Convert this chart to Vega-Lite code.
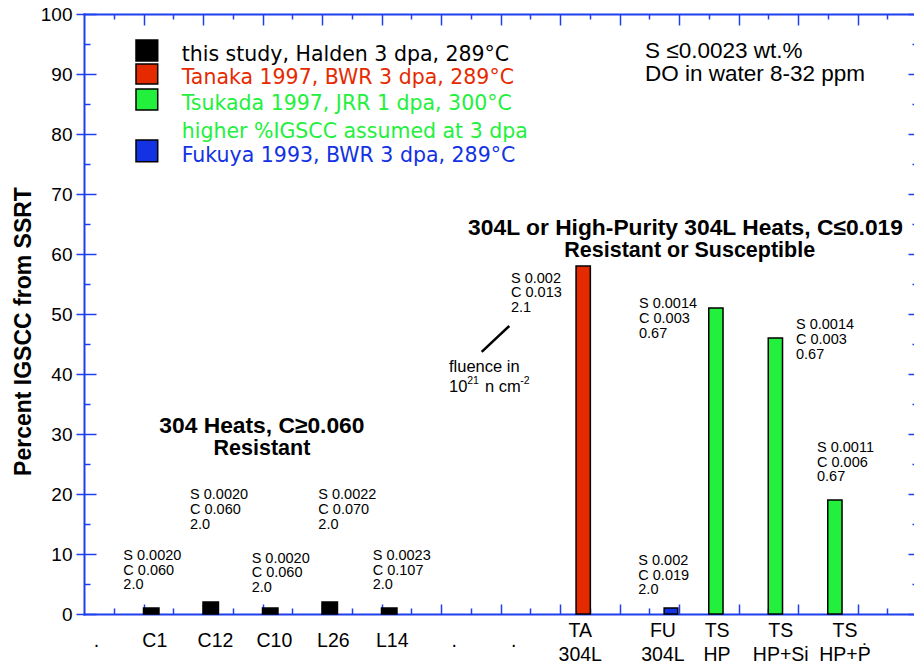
{
  "$schema": "https://vega.github.io/schema/vega-lite/v6.json",
  "width": 833,
  "height": 600,
  "autosize": {"type": "none"},
  "padding": {"left": 84, "top": 14, "right": 0, "bottom": 54},
  "background": "white",
  "config": {
    "view": {"stroke": null},
    "axis": {"grid": false, "domainColor": "#1f3fef", "tickColor": "#1f3fef", "domainWidth": 2, "tickWidth": 1.5, "labelFont": "Liberation Sans", "titleFont": "Liberation Sans", "domainCap": "square"}
  },
  "datasets": {
    "bars": [
      {"series": "this study", "cat": "C1", "x0": 1, "x1": 1.26, "value": 1},
      {"series": "this study", "cat": "C12", "x0": 2, "x1": 2.26, "value": 2},
      {"series": "this study", "cat": "C10", "x0": 3, "x1": 3.26, "value": 1},
      {"series": "this study", "cat": "L26", "x0": 4, "x1": 4.26, "value": 2},
      {"series": "this study", "cat": "L14", "x0": 5, "x1": 5.26, "value": 1},
      {"series": "Tanaka", "cat": "TA 304L", "x0": 8.27, "x1": 8.51, "value": 58},
      {"series": "Fukuya", "cat": "FU 304L", "x0": 9.75, "x1": 9.98, "value": 1},
      {"series": "Tsukada", "cat": "TS HP", "x0": 10.5, "x1": 10.74, "value": 51},
      {"series": "Tsukada", "cat": "TS HP+Si", "x0": 11.5, "x1": 11.74, "value": 46},
      {"series": "Tsukada", "cat": "TS HP+P", "x0": 12.5, "x1": 12.74, "value": 19}
    ],
    "legendSwatches": [
      {"series": "this study", "x0": 0.874, "x1": 1.239, "y0": 92.17, "y1": 95.67},
      {"series": "Tanaka", "x0": 0.874, "x1": 1.239, "y0": 88.33, "y1": 91.67},
      {"series": "Tsukada", "x0": 0.874, "x1": 1.239, "y0": 84.0, "y1": 87.5},
      {"series": "Fukuya", "x0": 0.874, "x1": 1.239, "y0": 75.38, "y1": 79.0}
    ],
    "legendText": [
      {"series": "this study", "label": "this study, Halden 3 dpa, 289°C", "x": 1.642, "y": 92.22},
      {"series": "Tanaka", "label": "Tanaka 1997, BWR 3 dpa, 289°C", "x": 1.642, "y": 88.28},
      {"series": "Tsukada", "label": "Tsukada 1997, JRR 1 dpa, 300°C", "x": 1.642, "y": 84.0},
      {"series": "Tsukada", "label": "higher %IGSCC assumed at 3 dpa", "x": 1.642, "y": 79.28},
      {"series": "Fukuya", "label": "Fukuya 1993, BWR 3 dpa, 289°C", "x": 1.642, "y": 75.38}
    ],
    "notes": [
      {"text": "S 0.0020\nC 0.060\n2.0", "x": 0.661, "y": 9.0},
      {"text": "S 0.0020\nC 0.060\n2.0", "x": 1.782, "y": 19.12},
      {"text": "S 0.0020\nC 0.060\n2.0", "x": 2.818, "y": 8.55},
      {"text": "S 0.0022\nC 0.070\n2.0", "x": 3.938, "y": 19.12},
      {"text": "S 0.0023\nC 0.107\n2.0", "x": 4.852, "y": 9.0},
      {"text": "\u00a0S 0.002\nC 0.013\n2.1", "x": 7.176, "y": 55.22},
      {"text": "S 0.002\nC 0.019\n2.0", "x": 9.316, "y": 8.17},
      {"text": "S 0.0014\nC 0.003\n0.67", "x": 9.328, "y": 50.95},
      {"text": "S 0.0014\nC 0.003\n0.67", "x": 11.966, "y": 47.45},
      {"text": "S 0.0011\nC 0.006\n0.67", "x": 12.319, "y": 27.0}
    ],
    "headings1": [
      {"text": "304 Heats, C≥0.060", "x": 2.99, "y": 30.17},
      {"text": "304L or High-Purity 304L Heats, C≤0.019", "x": 10.11, "y": 63.17}
    ],
    "headings2": [
      {"text": "Resistant", "x": 2.99, "y": 26.5},
      {"text": "Resistant or Susceptible", "x": 10.18, "y": 59.5}
    ],
    "conditions": [
      {"text": "S ≤0.0023 wt.%\nDO in water 8-32 ppm", "x": 9.429, "y": 92.75}
    ],
    "fluence": [
      {"text": "fluence in", "x": 6.134, "y": 40.35},
      {"text": "10", "x": 6.134, "y": 37.05},
      {"text": "n cm", "x": 6.739, "y": 37.05}
    ],
    "fluenceSup": [
      {"text": "21", "x": 6.44, "y": 38.3},
      {"text": "-2", "x": 7.33, "y": 38.3}
    ],
    "pointer": [
      {"x": 6.684, "y": 43.7, "x2": 7.148, "y2": 48.0}
    ],
    "catLabels1": [
      {"label": ".", "x": 0.21},
      {"label": "C1", "x": 1.19},
      {"label": "C12", "x": 2.21},
      {"label": "C10", "x": 3.2},
      {"label": "L26", "x": 4.19},
      {"label": "L14", "x": 5.18},
      {"label": ".", "x": 6.22},
      {"label": ".", "x": 7.22}
    ],
    "catLabels2": [
      {"label": "TA\n304L", "x": 8.34},
      {"label": "FU\n304L", "x": 9.73},
      {"label": "TS\nHP", "x": 10.64},
      {"label": "TS\nHP+Si", "x": 11.71},
      {"label": "TS\nHP+Ṗ", "x": 12.79}
    ]
  },
  "layer": [
    {
      "data": {"name": "bars"},
      "mark": {"type": "bar", "stroke": "black", "strokeWidth": 1.5, "opacity": 1},
      "encoding": {
        "x": {"field": "x0", "type": "quantitative", "scale": {"domain": [0, 14], "nice": false, "zero": false},
          "axis": {"orient": "bottom", "values": [1,2,3,4,5,6,7,8,9,10,11,12,13], "tickSize": -10, "labels": false, "title": null, "domain": true}},
        "x2": {"field": "x1"},
        "y": {"field": "value", "type": "quantitative", "scale": {"domain": [0, 100], "nice": false},
          "axis": {"orient": "left", "values": [0,10,20,30,40,50,60,70,80,90,100], "tickSize": 8, "labelFontSize": 19, "labelColor": "black", "labelPadding": 4, "title": "Percent IGSCC from SSRT", "titleFontSize": 23, "titleFontWeight": "bold", "titleColor": "black", "titlePadding": 5, "titleY": 317, "domain": true}},
        "y2": {"datum": 0},
        "color": {"field": "series", "type": "nominal", "scale": {"domain": ["this study", "Tanaka", "Tsukada", "Fukuya"], "range": ["#000000", "#e62a00", "#22f03c", "#1232e4"]}, "legend": null}
      }
    },
    {
      "data": {"name": "legendSwatches"},
      "mark": {"type": "rect", "stroke": "black", "strokeWidth": 1.5, "opacity": 1},
      "encoding": {
        "x": {"field": "x0", "type": "quantitative", "scale": {"domain": [0, 14], "nice": false, "zero": false},
          "axis": {"orient": "bottom", "values": [0.5,1.5,2.5,3.5,4.5,5.5,6.5,7.5,8.5,9.5,10.5,11.5,12.5,13.5], "tickSize": -6, "labels": false, "title": null, "domain": false}},
        "x2": {"field": "x1"},
        "y": {"field": "y0", "type": "quantitative", "scale": {"domain": [0, 100], "nice": false},
          "axis": {"orient": "left", "values": [0,10,20,30,40,50,60,70,80,90,100], "tickSize": -12, "labels": false, "title": null, "domain": false}},
        "y2": {"field": "y1"},
        "color": {"field": "series", "type": "nominal", "legend": null}
      }
    },
    {
      "data": {"name": "legendText"},
      "mark": {"type": "text", "align": "left", "baseline": "alphabetic", "font": "DejaVu Sans", "fontSize": 20.5},
      "encoding": {
        "x": {"field": "x", "type": "quantitative", "scale": {"domain": [0, 14], "nice": false, "zero": false},
          "axis": {"orient": "top", "values": [1,2,3,4,5,6,7,8,9,10,11,12,13], "tickSize": -11, "labels": false, "title": null, "domain": true}},
        "y": {"field": "y", "type": "quantitative", "scale": {"domain": [0, 100], "nice": false},
          "axis": {"orient": "left", "values": [5,15,25,35,45,55,65,75,85,95], "tickSize": -6, "labels": false, "title": null, "domain": false}},
        "text": {"field": "label"},
        "color": {"field": "series", "type": "nominal", "legend": null}
      }
    },
    {
      "data": {"name": "notes"},
      "mark": {"type": "text", "align": "left", "baseline": "alphabetic", "font": "Liberation Sans", "fontSize": 14.5, "lineBreak": "\n", "lineHeight": 14.7, "color": "black"},
      "encoding": {
        "x": {"field": "x", "type": "quantitative", "scale": {"domain": [0, 14], "nice": false, "zero": false},
          "axis": {"orient": "top", "values": [0.5,1.5,2.5,3.5,4.5,5.5,6.5,7.5,8.5,9.5,10.5,11.5,12.5,13.5], "tickSize": -5, "labels": false, "title": null, "domain": false}},
        "y": {"field": "y", "type": "quantitative", "scale": {"domain": [0, 100], "nice": false},
          "axis": {"orient": "right", "values": [0,10,20,30,40,50,60,70,80,90,100], "tickSize": -9, "labels": false, "title": null, "domain": true}},
        "text": {"field": "text"}
      }
    },
    {
      "data": {"name": "headings1"},
      "mark": {"type": "text", "align": "center", "baseline": "alphabetic", "font": "Liberation Sans", "fontWeight": "bold", "fontSize": 22.8, "color": "black"},
      "encoding": {
        "x": {"field": "x", "type": "quantitative", "scale": {"domain": [0, 14], "nice": false, "zero": false}, "axis": null},
        "y": {"field": "y", "type": "quantitative", "scale": {"domain": [0, 100], "nice": false},
          "axis": {"orient": "right", "values": [5,15,25,35,45,55,65,75,85,95], "tickSize": -5, "labels": false, "title": null, "domain": false}},
        "text": {"field": "text"}
      }
    },
    {
      "data": {"name": "headings2"},
      "mark": {"type": "text", "align": "center", "baseline": "alphabetic", "font": "Liberation Sans", "fontWeight": "bold", "fontSize": 21.5, "color": "black"},
      "encoding": {
        "x": {"field": "x", "type": "quantitative", "scale": {"domain": [0, 14], "nice": false, "zero": false}, "axis": null},
        "y": {"field": "y", "type": "quantitative", "scale": {"domain": [0, 100], "nice": false}, "axis": null},
        "text": {"field": "text"}
      }
    },
    {
      "data": {"name": "conditions"},
      "mark": {"type": "text", "align": "left", "baseline": "alphabetic", "font": "Liberation Sans", "fontSize": 22.5, "lineBreak": "\n", "lineHeight": 23, "color": "black"},
      "encoding": {
        "x": {"field": "x", "type": "quantitative", "scale": {"domain": [0, 14], "nice": false, "zero": false}, "axis": null},
        "y": {"field": "y", "type": "quantitative", "scale": {"domain": [0, 100], "nice": false}, "axis": null},
        "text": {"field": "text"}
      }
    },
    {
      "data": {"name": "fluence"},
      "mark": {"type": "text", "align": "left", "baseline": "alphabetic", "font": "Liberation Sans", "fontSize": 16.5, "color": "black"},
      "encoding": {
        "x": {"field": "x", "type": "quantitative", "scale": {"domain": [0, 14], "nice": false, "zero": false}, "axis": null},
        "y": {"field": "y", "type": "quantitative", "scale": {"domain": [0, 100], "nice": false}, "axis": null},
        "text": {"field": "text"}
      }
    },
    {
      "data": {"name": "fluenceSup"},
      "mark": {"type": "text", "align": "left", "baseline": "alphabetic", "font": "Liberation Sans", "fontSize": 10.5, "color": "black"},
      "encoding": {
        "x": {"field": "x", "type": "quantitative", "scale": {"domain": [0, 14], "nice": false, "zero": false}, "axis": null},
        "y": {"field": "y", "type": "quantitative", "scale": {"domain": [0, 100], "nice": false}, "axis": null},
        "text": {"field": "text"}
      }
    },
    {
      "data": {"name": "pointer"},
      "mark": {"type": "rule", "color": "black", "strokeWidth": 2.5},
      "encoding": {
        "x": {"field": "x", "type": "quantitative", "scale": {"domain": [0, 14], "nice": false, "zero": false}, "axis": null},
        "y": {"field": "y", "type": "quantitative", "scale": {"domain": [0, 100], "nice": false}, "axis": null},
        "x2": {"field": "x2"},
        "y2": {"field": "y2"}
      }
    },
    {
      "data": {"name": "catLabels1"},
      "mark": {"type": "text", "align": "center", "baseline": "alphabetic", "font": "Liberation Sans", "fontSize": 19.5, "dy": 33, "color": "black"},
      "encoding": {
        "x": {"field": "x", "type": "quantitative", "scale": {"domain": [0, 14], "nice": false, "zero": false}, "axis": null},
        "y": {"datum": 0, "type": "quantitative", "scale": {"domain": [0, 100], "nice": false}, "axis": null},
        "text": {"field": "label"}
      }
    },
    {
      "data": {"name": "catLabels2"},
      "mark": {"type": "text", "align": "center", "baseline": "alphabetic", "font": "Liberation Sans", "fontSize": 19.5, "dy": 23, "lineBreak": "\n", "lineHeight": 24, "color": "black"},
      "encoding": {
        "x": {"field": "x", "type": "quantitative", "scale": {"domain": [0, 14], "nice": false, "zero": false}, "axis": null},
        "y": {"datum": 0, "type": "quantitative", "scale": {"domain": [0, 100], "nice": false}, "axis": null},
        "text": {"field": "label"}
      }
    }
  ],
  "resolve": {"axis": {"x": "independent", "y": "independent"}}
}
